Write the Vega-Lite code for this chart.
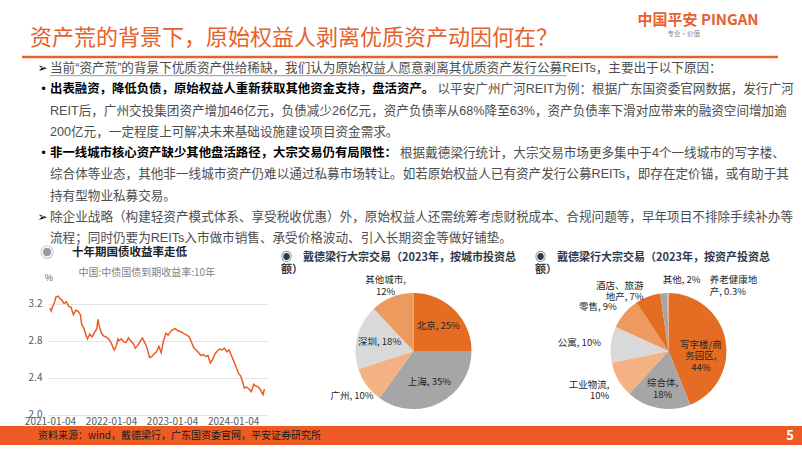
{
  "$schema": "https://vega.github.io/schema/vega-lite/v6.json",
  "padding": 0,
  "spacing": 0,
  "background": "white",
  "config": {"view": {"stroke": null}, "font": "Noto Sans CJK SC"},
  "datasets": {
    "body": [
      {"line": -0.41, "col": -1.6, "kind": "title", "text": "资产荒的背景下，原始权益人剥离优质资产动因何在？"},
      {"line": -1.28, "col": 47.0, "kind": "logo", "text": "中国平安 PINGAN"},
      {"line": -0.6, "col": 49.4, "kind": "tagline", "text": "专业·价值"},
      {"line": 1, "col": -1, "kind": "marker", "text": "➢"},
      {"line": 1, "col": 0, "kind": "body", "text": "当前“资产荒”的背景下优质资产供给稀缺，我们认为原始权益人愿意剥离其优质资产发行公募REITs，主要出于以下原因："},
      {"line": 2, "col": -0.8, "kind": "marker", "text": "•"},
      {"line": 2, "col": 0, "kind": "bold", "text": "出表融资，降低负债，原始权益人重新获取其他资金支持，盘活资产。"},
      {"line": 2, "col": 31, "kind": "body", "text": "以平安广州广河REIT为例：根据广东国资委官网数据，发行广河"},
      {"line": 3, "col": 0, "kind": "body", "text": "REIT后，广州交投集团资产增加46亿元，负债减少26亿元，资产负债率从68%降至63%，资产负债率下滑对应带来的融资空间增加逾"},
      {"line": 4, "col": 0, "kind": "body", "text": "200亿元，一定程度上可解决未来基础设施建设项目资金需求。"},
      {"line": 5, "col": -0.8, "kind": "marker", "text": "•"},
      {"line": 5, "col": 0, "kind": "bold", "text": "非一线城市核心资产缺少其他盘活路径，大宗交易仍有局限性："},
      {"line": 5, "col": 28, "kind": "body", "text": "根据戴德梁行统计，大宗交易市场更多集中于4个一线城市的写字楼、"},
      {"line": 6, "col": 0, "kind": "body", "text": "综合体等业态，其他非一线城市资产仍难以通过私募市场转让。如若原始权益人已有资产发行公募REITs，即存在定价锚，或有助于其"},
      {"line": 7, "col": 0, "kind": "body", "text": "持有型物业私募交易。"},
      {"line": 8, "col": -1, "kind": "marker", "text": "➢"},
      {"line": 8, "col": 0, "kind": "body", "text": "除企业战略（构建轻资产模式体系、享受税收优惠）外，原始权益人还需统筹考虑财税成本、合规问题等，早年项目不排除手续补办等"},
      {"line": 9, "col": 0, "kind": "body", "text": "流程；同时仍要为REITs入市做市销售、承受价格波动、引入长期资金等做好铺垫。"}
    ],
    "rules": [
      {"kind": "divider", "line": 0.48, "col": -2.24, "col2": 58.24},
      {"kind": "underline", "line": 1.36, "col": 0, "col2": 41.3}
    ],
    "footer": [
      {"kind": "band", "col": -4, "col2": 60.16, "text": ""},
      {"kind": "source", "col": -0.96, "text": "资料来源：wind，戴德梁行，广东国资委官网，平安证券研究所"},
      {"kind": "page", "col": 59.2, "text": "5"}
    ],
    "yield": [
      {"date": "2021-01-04", "yield": 3.15}, {"date": "2021-01-11", "yield": 3.12}, {"date": "2021-01-18", "yield": 3.16},
      {"date": "2021-01-25", "yield": 3.19}, {"date": "2021-02-01", "yield": 3.22}, {"date": "2021-02-08", "yield": 3.27},
      {"date": "2021-02-22", "yield": 3.28}, {"date": "2021-03-01", "yield": 3.26}, {"date": "2021-03-08", "yield": 3.25},
      {"date": "2021-03-15", "yield": 3.24}, {"date": "2021-03-29", "yield": 3.2}, {"date": "2021-04-12", "yield": 3.22},
      {"date": "2021-04-26", "yield": 3.17}, {"date": "2021-05-10", "yield": 3.16}, {"date": "2021-05-24", "yield": 3.08},
      {"date": "2021-06-07", "yield": 3.13}, {"date": "2021-06-21", "yield": 3.12}, {"date": "2021-07-05", "yield": 3.08},
      {"date": "2021-07-12", "yield": 2.98}, {"date": "2021-07-26", "yield": 2.93}, {"date": "2021-08-09", "yield": 2.85},
      {"date": "2021-08-16", "yield": 2.82}, {"date": "2021-08-30", "yield": 2.87}, {"date": "2021-09-13", "yield": 2.84},
      {"date": "2021-09-27", "yield": 2.89}, {"date": "2021-10-11", "yield": 2.93}, {"date": "2021-10-18", "yield": 3.03},
      {"date": "2021-10-25", "yield": 2.96}, {"date": "2021-11-08", "yield": 2.88}, {"date": "2021-11-22", "yield": 2.85},
      {"date": "2021-12-06", "yield": 2.84}, {"date": "2021-12-20", "yield": 2.82}, {"date": "2022-01-04", "yield": 2.78},
      {"date": "2022-01-17", "yield": 2.72}, {"date": "2022-01-24", "yield": 2.7}, {"date": "2022-02-07", "yield": 2.76},
      {"date": "2022-02-14", "yield": 2.82}, {"date": "2022-02-21", "yield": 2.8}, {"date": "2022-03-07", "yield": 2.82},
      {"date": "2022-03-21", "yield": 2.79}, {"date": "2022-04-04", "yield": 2.78}, {"date": "2022-04-18", "yield": 2.83},
      {"date": "2022-05-02", "yield": 2.8}, {"date": "2022-05-16", "yield": 2.77}, {"date": "2022-05-30", "yield": 2.72},
      {"date": "2022-06-13", "yield": 2.75}, {"date": "2022-06-27", "yield": 2.79}, {"date": "2022-07-11", "yield": 2.83},
      {"date": "2022-07-25", "yield": 2.78}, {"date": "2022-08-08", "yield": 2.72}, {"date": "2022-08-22", "yield": 2.62},
      {"date": "2022-09-05", "yield": 2.63}, {"date": "2022-09-19", "yield": 2.66}, {"date": "2022-10-03", "yield": 2.68},
      {"date": "2022-10-17", "yield": 2.74}, {"date": "2022-10-31", "yield": 2.67}, {"date": "2022-11-14", "yield": 2.8},
      {"date": "2022-11-28", "yield": 2.88}, {"date": "2022-12-12", "yield": 2.86}, {"date": "2022-12-26", "yield": 2.9},
      {"date": "2023-01-09", "yield": 2.92}, {"date": "2023-01-23", "yield": 2.93}, {"date": "2023-02-06", "yield": 2.91},
      {"date": "2023-02-20", "yield": 2.9}, {"date": "2023-03-06", "yield": 2.89}, {"date": "2023-03-20", "yield": 2.87},
      {"date": "2023-04-03", "yield": 2.86}, {"date": "2023-04-17", "yield": 2.84}, {"date": "2023-05-01", "yield": 2.78},
      {"date": "2023-05-15", "yield": 2.72}, {"date": "2023-05-29", "yield": 2.7}, {"date": "2023-06-12", "yield": 2.67},
      {"date": "2023-06-26", "yield": 2.64}, {"date": "2023-07-10", "yield": 2.65}, {"date": "2023-07-24", "yield": 2.63},
      {"date": "2023-08-07", "yield": 2.64}, {"date": "2023-08-21", "yield": 2.56}, {"date": "2023-09-04", "yield": 2.6},
      {"date": "2023-09-18", "yield": 2.66}, {"date": "2023-10-02", "yield": 2.69}, {"date": "2023-10-16", "yield": 2.71},
      {"date": "2023-10-30", "yield": 2.7}, {"date": "2023-11-13", "yield": 2.72}, {"date": "2023-11-27", "yield": 2.68},
      {"date": "2023-12-11", "yield": 2.7}, {"date": "2023-12-25", "yield": 2.64}, {"date": "2024-01-08", "yield": 2.58},
      {"date": "2024-01-22", "yield": 2.52}, {"date": "2024-02-05", "yield": 2.45}, {"date": "2024-02-19", "yield": 2.42},
      {"date": "2024-02-26", "yield": 2.38}, {"date": "2024-03-04", "yield": 2.34}, {"date": "2024-03-11", "yield": 2.29},
      {"date": "2024-03-25", "yield": 2.3}, {"date": "2024-04-08", "yield": 2.28}, {"date": "2024-04-22", "yield": 2.25},
      {"date": "2024-05-06", "yield": 2.33}, {"date": "2024-05-20", "yield": 2.31}, {"date": "2024-06-03", "yield": 2.3},
      {"date": "2024-06-17", "yield": 2.27}, {"date": "2024-07-01", "yield": 2.22}, {"date": "2024-07-10", "yield": 2.28}
    ],
    "city": [
      {"name": "北京", "share": 25, "rank": 1, "label": "北京, 25%"},
      {"name": "上海", "share": 35, "rank": 2, "label": "上海, 35%"},
      {"name": "广州", "share": 10, "rank": 3, "label": "广州, 10%"},
      {"name": "深圳", "share": 18, "rank": 4, "label": "深圳, 18%"},
      {"name": "其他城市", "share": 12, "rank": 5, "label": "其他城市,\n12%"}
    ],
    "asset": [
      {"name": "写字楼/商务园区", "share": 44, "rank": 1, "label": "写字楼/商\n务园区,\n44%"},
      {"name": "综合体", "share": 18, "rank": 2, "label": "综合体,\n18%"},
      {"name": "工业物流", "share": 10, "rank": 3, "label": "工业物流,\n10%"},
      {"name": "公寓", "share": 10, "rank": 4, "label": "公寓, 10%"},
      {"name": "零售", "share": 9, "rank": 5, "label": "零售, 9%"},
      {"name": "酒店、旅游地产", "share": 7, "rank": 6, "label": "酒店、旅游\n地产, 7%"},
      {"name": "其他", "share": 2, "rank": 7, "label": "其他, 2%"},
      {"name": "养老健康地产", "share": 0.3, "rank": 8, "label": "养老健康地\n产, 0.3%"}
    ]
  },
  "vconcat": [
    {
      "width": 754,
      "height": 245,
      "encoding": {
        "x": {"field": "col", "type": "quantitative", "scale": {"domain": [-0.16, 60.16], "zero": false, "nice": false}, "axis": null},
        "y": {"field": "line", "type": "quantitative", "scale": {"domain": [-2.2, 9.329], "reverse": true, "zero": false, "nice": false}, "axis": null}
      },
      "layer": [
        {
          "data": {"name": "rules"},
          "transform": [{"filter": "datum.kind === 'divider'"}],
          "mark": {"type": "rule", "color": "#E8602C", "strokeWidth": 2.5},
          "encoding": {"x2": {"field": "col2"}}
        },
        {
          "data": {"name": "rules"},
          "transform": [{"filter": "datum.kind === 'underline'"}],
          "mark": {"type": "rule", "color": "#808080", "strokeWidth": 0.8},
          "encoding": {"x2": {"field": "col2"}}
        },
        {
          "data": {"name": "body"},
          "transform": [{"filter": "datum.kind === 'title'"}],
          "mark": {"type": "text", "align": "left", "baseline": "middle", "fontSize": 22, "color": "#E8602C"},
          "encoding": {"text": {"field": "text"}}
        },
        {
          "data": {"name": "body"},
          "transform": [{"filter": "datum.kind === 'logo'"}],
          "mark": {"type": "text", "align": "left", "baseline": "middle", "fontSize": 15, "fontWeight": "bold", "color": "#E8602C"},
          "encoding": {"text": {"field": "text"}}
        },
        {
          "data": {"name": "body"},
          "transform": [{"filter": "datum.kind === 'tagline'"}],
          "mark": {"type": "text", "align": "left", "baseline": "middle", "fontSize": 6.5, "color": "#808080"},
          "encoding": {"text": {"field": "text"}}
        },
        {
          "data": {"name": "body"},
          "transform": [{"filter": "datum.kind === 'marker'"}],
          "mark": {"type": "text", "align": "left", "baseline": "middle", "fontSize": 12, "color": "#000000", "font": "DejaVu Sans"},
          "encoding": {"text": {"field": "text"}}
        },
        {
          "data": {"name": "body"},
          "transform": [{"filter": "datum.kind === 'bold'"}],
          "mark": {"type": "text", "align": "left", "baseline": "middle", "fontSize": 12.4, "fontWeight": "bold", "color": "#000000", "font": "Liberation Sans, Noto Sans CJK SC"},
          "encoding": {"text": {"field": "text"}}
        },
        {
          "data": {"name": "body"},
          "transform": [{"filter": "datum.kind === 'body'"}],
          "mark": {"type": "text", "align": "left", "baseline": "middle", "fontSize": 12.6, "color": "#4d4d4d", "font": "Liberation Sans, Noto Sans CJK SC"},
          "encoding": {"text": {"field": "text"}}
        }
      ]
    },
    {
      "spacing": 0,
      "hconcat": [
        {
          "width": 220,
          "height": 150,
          "layer": [
            {
              "data": {"name": "yield"},
              "mark": {"type": "line", "color": "#EE5A24", "strokeWidth": 1.5},
              "encoding": {
                "x": {
                  "field": "date", "type": "temporal",
                  "scale": {"type": "utc", "domain": [{"year": 2020, "month": 12, "date": 23, "utc": true}, {"year": 2024, "month": 7, "date": 31, "utc": true}]},
                  "axis": {
                    "values": [
                      {"year": 2021, "month": 1, "date": 4, "utc": true},
                      {"year": 2022, "month": 1, "date": 4, "utc": true},
                      {"year": 2023, "month": 1, "date": 4, "utc": true},
                      {"year": 2024, "month": 1, "date": 4, "utc": true}
                    ],
                    "format": "%Y-%m-%d", "labelFontSize": 10, "labelColor": "#595959", "ticks": false,
                    "domain": false, "grid": false, "offset": -13, "labelPadding": 3, "title": null,
                    "labelFlush": false, "labelOverlap": false
                  }
                },
                "y": {
                  "field": "yield", "type": "quantitative",
                  "scale": {"domain": [1.8815, 3.497], "nice": false, "zero": false},
                  "axis": {
                    "values": [2.0, 2.2, 2.4, 2.6, 2.8, 3.0, 3.2, 3.4], "format": ".1f",
                    "labelFontSize": 10, "labelColor": "#595959", "ticks": false, "domain": false,
                    "grid": true, "gridColor": "#e3e3e3", "labelPadding": 6, "minExtent": 48, "maxExtent": 48, "title": null
                  }
                }
              }
            },
            {
              "data": {"values": [{"text": "◉"}]},
              "mark": {"type": "text", "align": "center", "baseline": "middle", "fontSize": 14, "color": "#9a9a9a"},
              "encoding": {"text": {"field": "text"}, "x": {"datum": {"year": 2020, "month": 12, "date": 17, "utc": true}, "type": "temporal"}, "y": {"datum": 3.745}}
            },
            {
              "data": {"values": [{"text": "十年期国债收益率走低"}]},
              "mark": {"type": "text", "align": "left", "baseline": "middle", "fontSize": 11.5, "fontWeight": "bold", "color": "#222222"},
              "encoding": {"text": {"field": "text"}, "x": {"datum": {"year": 2021, "month": 5, "date": 15, "utc": true}, "type": "temporal"}, "y": {"datum": 3.745}}
            },
            {
              "data": {"values": [{"text": "中国:中债国债到期收益率:10年"}]},
              "mark": {"type": "text", "align": "center", "baseline": "middle", "fontSize": 10, "color": "#7f7f7f"},
              "encoding": {"text": {"field": "text"}, "x": {"datum": {"year": 2022, "month": 8, "date": 6, "utc": true}, "type": "temporal"}, "y": {"datum": 3.53}}
            },
            {
              "data": {"values": [{"text": "%"}]},
              "mark": {"type": "text", "align": "center", "baseline": "middle", "fontSize": 9, "color": "#595959"},
              "encoding": {"text": {"field": "text"}, "x": {"datum": {"year": 2020, "month": 12, "date": 28, "utc": true}, "type": "temporal"}, "y": {"datum": 3.475}}
            }
          ]
        },
        {
          "width": 267,
          "height": 150,
          "title": {"text": ["◉　戴德梁行大宗交易（2023年，按城市投资总", "　　额）"], "anchor": "start", "frame": "group", "fontSize": 11, "fontWeight": "bold", "color": "#2f3b4c", "offset": 0, "dx": 13, "lineHeight": 12},
          "data": {"name": "city"},
          "encoding": {
            "theta": {"field": "share", "type": "quantitative", "stack": true},
            "order": {"field": "rank", "type": "quantitative"},
            "detail": {"field": "name", "type": "nominal"}
          },
          "layer": [
            {
              "mark": {"type": "arc", "outerRadius": 58, "xOffset": 12},
              "encoding": {"color": {"field": "name", "type": "nominal", "legend": null,
                "scale": {"domain": ["北京", "上海", "广州", "深圳", "其他城市"], "range": ["#E46C23", "#A6A6A6", "#F4B183", "#D9D9D9", "#EC9A5E"]}}}
            },
            {
              "mark": {"type": "text", "radius": 35, "xOffset": 12, "fontSize": 9.5, "color": "#262626", "lineBreak": "\n"},
              "encoding": {"text": {"condition": {"test": "datum.share >= 15", "field": "label"}, "value": ""}}
            },
            {
              "mark": {"type": "text", "radius": 76, "xOffset": 12, "fontSize": 9.5, "color": "#262626", "lineBreak": "\n"},
              "encoding": {"text": {"condition": {"test": "datum.share < 15", "field": "label"}, "value": ""}}
            }
          ]
        },
        {
          "width": 267,
          "height": 150,
          "title": {"text": ["◉　戴德梁行大宗交易（2023年，按资产投资总", "　　额）"], "anchor": "start", "frame": "group", "fontSize": 11, "fontWeight": "bold", "color": "#2f3b4c", "offset": 0, "lineHeight": 12},
          "data": {"name": "asset"},
          "encoding": {
            "theta": {"field": "share", "type": "quantitative", "stack": true},
            "order": {"field": "rank", "type": "quantitative"},
            "detail": {"field": "name", "type": "nominal"}
          },
          "layer": [
            {
              "mark": {"type": "arc", "outerRadius": 58},
              "encoding": {"color": {"field": "name", "type": "nominal", "legend": null,
                "scale": {"domain": ["写字楼/商务园区", "综合体", "工业物流", "公寓", "零售", "酒店、旅游地产", "其他", "养老健康地产"],
                          "range": ["#E46C23", "#A6A6A6", "#F4B183", "#D9D9D9", "#EC9A5E", "#7F7F7F", "#F8CBAD", "#843C0C"]}}}
            },
            {
              "mark": {"type": "text", "radius": 33, "fontSize": 9.5, "color": "#262626", "lineBreak": "\n"},
              "encoding": {"text": {"condition": {"test": "datum.share >= 15", "field": "label"}, "value": ""}}
            },
            {
              "mark": {"type": "text", "radius": 68, "align": "right", "fontSize": 9.5, "color": "#262626", "lineBreak": "\n"},
              "encoding": {"text": {"condition": {"test": "datum.name === '工业物流' || datum.name === '公寓' || datum.name === '零售'", "field": "label"}, "value": ""}}
            },
            {
              "mark": {"type": "text", "radius": 70, "align": "right", "fontSize": 9.5, "color": "#262626", "lineBreak": "\n"},
              "encoding": {"text": {"condition": {"test": "datum.name === '酒店、旅游地产'", "field": "label"}, "value": ""}}
            },
            {
              "mark": {"type": "text", "radius": 71, "align": "left", "fontSize": 9.5, "color": "#262626", "lineBreak": "\n"},
              "encoding": {"text": {"condition": {"test": "datum.name === '其他'", "field": "label"}, "value": ""}}
            },
            {
              "mark": {"type": "text", "radius": 71, "align": "left", "dx": 42, "fontSize": 9.5, "color": "#262626", "lineBreak": "\n"},
              "encoding": {"text": {"condition": {"test": "datum.name === '养老健康地产'", "field": "label"}, "value": ""}}
            }
          ]
        }
      ]
    },
    {
      "width": 754,
      "height": 19,
      "data": {"name": "footer"},
      "encoding": {
        "x": {"field": "col", "type": "quantitative", "scale": {"domain": [-0.16, 60.16], "zero": false, "nice": false}, "axis": null}
      },
      "layer": [
        {
          "transform": [{"filter": "datum.kind === 'band'"}],
          "mark": {"type": "rect", "color": "#EE5A24"},
          "encoding": {"x2": {"field": "col2"}}
        },
        {
          "transform": [{"filter": "datum.kind === 'source'"}],
          "mark": {"type": "text", "align": "left", "baseline": "middle", "fontSize": 10, "color": "#1a1a1a"},
          "encoding": {"text": {"field": "text"}}
        },
        {
          "transform": [{"filter": "datum.kind === 'page'"}],
          "mark": {"type": "text", "align": "center", "baseline": "middle", "fontSize": 13, "fontWeight": "bold", "color": "#ffffff"},
          "encoding": {"text": {"field": "text"}}
        }
      ]
    }
  ]
}
